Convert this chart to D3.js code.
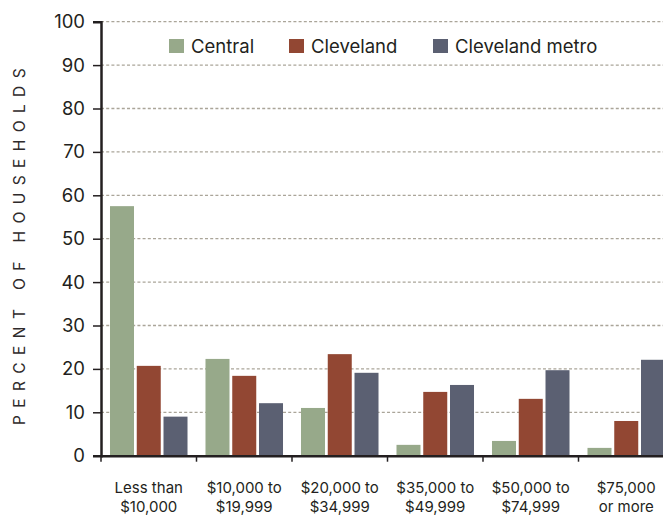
<!DOCTYPE html>
<html>
<head>
<meta charset="utf-8">
<script src="https://cdn.jsdelivr.net/npm/d3@7"></script>
<style>
  html, body { margin: 0; padding: 0; background: #fff; }
  svg { display: block; font-family: Inter, "Open Sans", sans-serif; }
</style>
</head>
<body>
<svg id="chart" width="663" height="515"></svg>
<script>
const categories = [
  ["Less than", "$10,000"],
  ["$10,000 to", "$19,999"],
  ["$20,000 to", "$34,999"],
  ["$35,000 to", "$49,999"],
  ["$50,000 to", "$74,999"],
  ["$75,000", "or more"]
];
const seriesNames = ["Central", "Cleveland", "Cleveland metro"];
const central = [57.5, 22.3, 11.0, 2.5, 3.4, 1.8];
const cleveland = [20.7, 18.4, 23.4, 14.7, 13.1, 8.0];
const metro = [9.0, 12.1, 19.1, 16.3, 19.7, 22.1];
const yTicks = [0, 10, 20, 30, 40, 50, 60, 70, 80, 90, 100];
const colors = ["#97a98a", "#924733", "#5b6072"];

const series = [central, cleveland, metro];
const svg = d3.select("#chart");
const margin = { left: 101, top: 21.7, bottom: 455.7, right: 674 };

const x = d3.scaleBand().domain(d3.range(categories.length))
  .range([margin.left, margin.right]).paddingInner(0).paddingOuter(0);
const inner = d3.scaleBand().domain(d3.range(series.length))
  .range([0, x.bandwidth()]).paddingInner(0.103).paddingOuter(0.336);
const y = d3.scaleLinear().domain([0, 100]).range([margin.bottom, margin.top]);

// gridlines
svg.append("g").selectAll("line").data(yTicks.filter(d => d > 0)).join("line")
  .attr("x1", margin.left).attr("x2", margin.right)
  .attr("y1", d => y(d)).attr("y2", d => y(d))
  .attr("stroke", "#aaa599").attr("stroke-width", 1.3)
  .attr("stroke-dasharray", "3,2.2");

// bars
const groups = svg.append("g").selectAll("g").data(categories).join("g")
  .attr("transform", (d, i) => `translate(${x(i)},0)`);
groups.selectAll("rect").data((d, i) => series.map((s, j) => ({ j, v: s[i] }))).join("rect")
  .attr("x", d => inner(d.j)).attr("width", inner.bandwidth())
  .attr("y", d => y(d.v)).attr("height", d => y(0) - y(d.v))
  .attr("fill", d => colors[d.j]);

// y axis
const yAxis = svg.append("g").attr("transform", `translate(${margin.left},0)`)
  .call(d3.axisLeft(y).tickValues(yTicks).tickSize(8).tickPadding(8));
yAxis.select(".domain").attr("stroke", "#231f20").attr("stroke-width", 2.5);
yAxis.selectAll(".tick line").attr("stroke", "#231f20").attr("stroke-width", 1.5);
yAxis.selectAll(".tick text").attr("font-size", 18.5).attr("fill", "#231f20")
  .attr("font-family", "Inter, sans-serif");

// x axis
const xAxis = svg.append("g").attr("transform", `translate(0,${margin.bottom})`)
  .call(d3.axisBottom(x).tickValues([]).tickSizeOuter(0));
xAxis.select(".domain").attr("stroke", "#231f20").attr("stroke-width", 2.5);
xAxis.selectAll("line.bt").data(d3.range(categories.length + 1)).join("line")
  .attr("class", "bt")
  .attr("x1", i => margin.left + i * x.step()).attr("x2", i => margin.left + i * x.step())
  .attr("y1", 0).attr("y2", 6).attr("stroke", "#231f20").attr("stroke-width", 1.5);

// category labels
const lab = svg.append("g").selectAll("text").data(categories).join("text")
  .attr("text-anchor", "middle").attr("font-size", 15).attr("fill", "#231f20");
lab.each(function (d, i) {
  const t = d3.select(this);
  const cx = x(i) + x.bandwidth() / 2;
  t.append("tspan").attr("x", cx).attr("y", 493).text(d[0]);
  t.append("tspan").attr("x", cx).attr("y", 512).text(d[1]);
});

// y title
svg.append("text")
  .attr("transform", "translate(25,243) rotate(-90)")
  .attr("text-anchor", "middle").attr("font-size", 15.5).attr("letter-spacing", 7.4)
  .attr("fill", "#2e2a2b").text("PERCENT OF HOUSEHOLDS");

// legend
const legX = [169, 289, 433];
const leg = svg.append("g").selectAll("g").data(seriesNames).join("g")
  .attr("transform", (d, i) => `translate(${legX[i]},39)`);
leg.append("rect").attr("width", 15).attr("height", 14).attr("fill", (d, i) => colors[i]);
leg.append("text").attr("x", 22).attr("y", 13.5).attr("font-size", 18.5)
  .attr("fill", "#231f20").text(d => d);
</script>
</body>
</html>
